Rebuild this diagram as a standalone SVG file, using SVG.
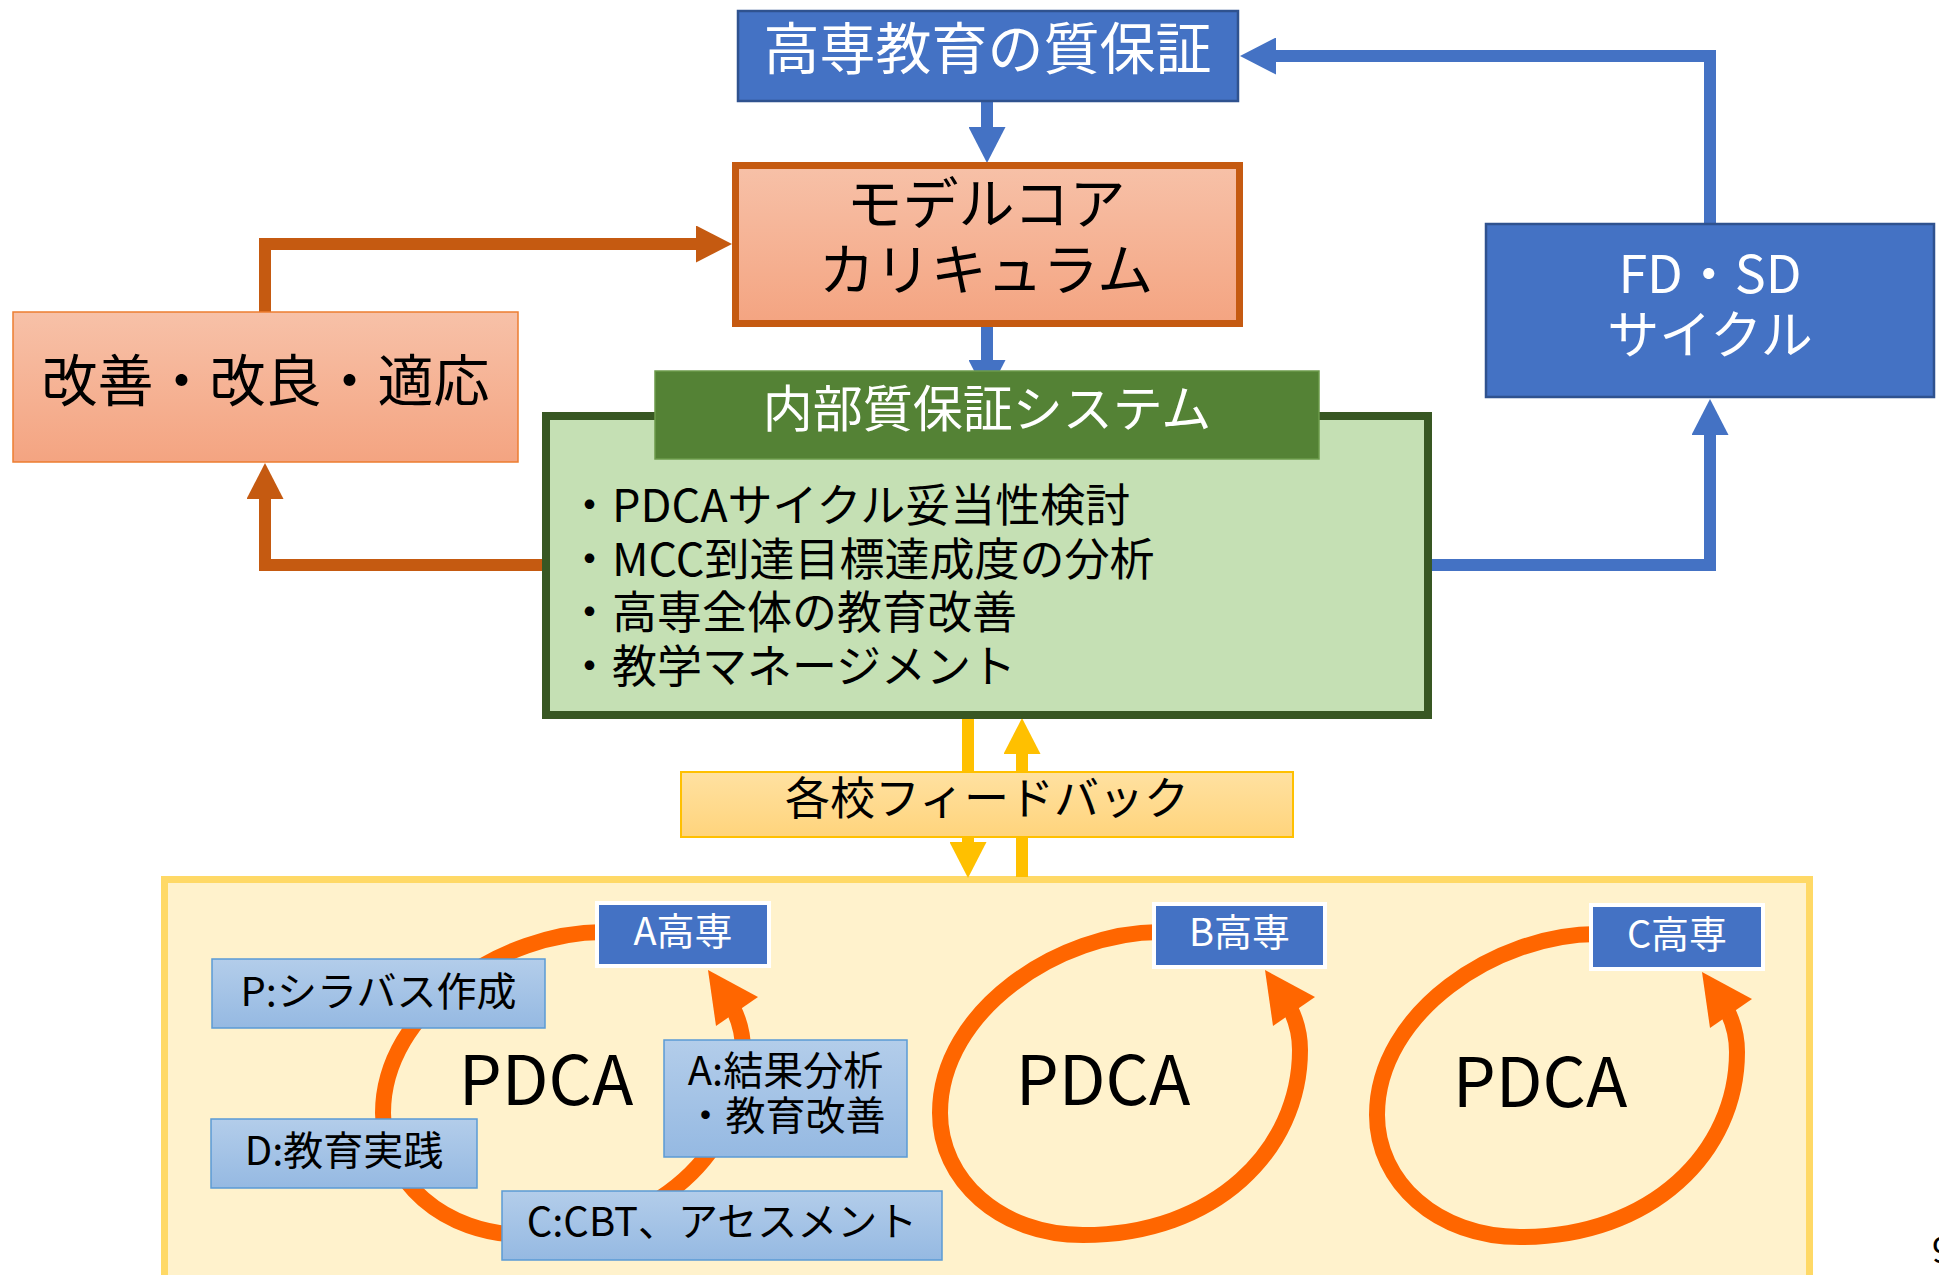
<svg xmlns="http://www.w3.org/2000/svg" width="1939" height="1275" viewBox="0 0 1939 1275">
<defs>
<style>
text { font-family: "Noto Sans CJK JP", "Noto Sans", "Liberation Sans", sans-serif; }
.c { text-anchor: middle; }
.wt { fill: #FFFFFF; }
.bk { fill: #000000; }
.blue { fill: #4472C4; stroke: #2F528F; stroke-width: 2.5; }
.kosen { fill: #4472C4; stroke: #FFFFFF; stroke-width: 4; }
.lbl { fill: url(#gBlue); stroke: #5B9BD5; stroke-width: 1.5; }
.conn { fill: none; stroke-width: 12; stroke-linejoin: miter; stroke-linecap: butt; }
.cb { stroke: #4472C4; }
.co { stroke: #C55A11; }
.cy { stroke: #FFC000; }
.ring { fill: none; stroke: #FF6600; stroke-width: 16; stroke-linecap: butt; }
.head { fill: #FF6600; }
</style>
<linearGradient id="gSalmon" x1="0" y1="0" x2="0" y2="1">
<stop offset="0" stop-color="#F7C1A8"/>
<stop offset="1" stop-color="#F4A481"/>
</linearGradient>
<linearGradient id="gBlue" x1="0" y1="0" x2="0" y2="1">
<stop offset="0" stop-color="#B3CDEA"/>
<stop offset="1" stop-color="#95B9E2"/>
</linearGradient>
<linearGradient id="gYellow" x1="0" y1="0" x2="0" y2="1">
<stop offset="0" stop-color="#FFE1A1"/>
<stop offset="1" stop-color="#FFD47C"/>
</linearGradient>
<marker id="mB" markerUnits="userSpaceOnUse" markerWidth="36" markerHeight="37" refX="0" refY="18.5" orient="auto" viewBox="0 0 36 37"><path d="M0,0 L36,18.5 L0,37 Z" fill="#4472C4"/></marker>
<marker id="mO" markerUnits="userSpaceOnUse" markerWidth="36" markerHeight="37" refX="0" refY="18.5" orient="auto" viewBox="0 0 36 37"><path d="M0,0 L36,18.5 L0,37 Z" fill="#C55A11"/></marker>
<marker id="mY" markerUnits="userSpaceOnUse" markerWidth="36" markerHeight="37" refX="0" refY="18.5" orient="auto" viewBox="0 0 36 37"><path d="M0,0 L36,18.5 L0,37 Z" fill="#FFC000"/></marker>
</defs>

<rect x="0" y="0" width="1939" height="1275" fill="#FFFFFF"/>

<g id="panel-schools">
<rect x="164.5" y="879.5" width="1645" height="500" fill="#FFF2CC" stroke="#FFD966" stroke-width="7"/>
</g>

<g id="connectors">
<path class="conn cb" d="M987,102 V127" marker-end="url(#mB)"/>
<path class="conn cb" d="M987,327 V360" marker-end="url(#mB)"/>
<path class="conn cb" d="M1710,223 V56 H1276" marker-end="url(#mB)"/>
<path class="conn cb" d="M1432,565 H1710 V435" marker-end="url(#mB)"/>
<path class="conn co" d="M265,312 V244 H696" marker-end="url(#mO)"/>
<path class="conn co" d="M545,565 H265 V499" marker-end="url(#mO)"/>
<path class="conn cy" d="M968,719 V842" marker-end="url(#mY)"/>
<path class="conn cy" d="M1022,877 V754" marker-end="url(#mY)"/>
</g>

<g id="cycles">
<g id="cycle-a" transform="translate(-557,0)">
<path class="ring" d="M1160,932 C1060,932 940,1010 940,1113 C940,1180 1000,1235 1083,1235 C1215,1235 1300,1150 1300,1050 C1300,1035 1297,1022 1290,1008"/>
<polygon class="head" points="1265,970 1315,997 1273,1026"/>
</g>
<g id="cycle-b">
<path class="ring" d="M1160,932 C1060,932 940,1010 940,1113 C940,1180 1000,1235 1083,1235 C1215,1235 1300,1150 1300,1050 C1300,1035 1297,1022 1290,1008"/>
<polygon class="head" points="1265,970 1315,997 1273,1026"/>
</g>
<g id="cycle-c" transform="translate(437,2)">
<path class="ring" d="M1160,932 C1060,932 940,1010 940,1113 C940,1180 1000,1235 1083,1235 C1215,1235 1300,1150 1300,1050 C1300,1035 1297,1022 1290,1008"/>
<polygon class="head" points="1265,970 1315,997 1273,1026"/>
</g>
</g>

<g id="node-quality">
<rect class="blue" x="738" y="11" width="500" height="90"/>
<text class="c wt" x="987.5" y="69" font-size="56">高専教育の質保証</text>
</g>

<g id="node-mcc">
<rect x="735.5" y="165.5" width="504" height="158" fill="url(#gSalmon)" stroke="#C55A11" stroke-width="7"/>
<text class="c bk" x="986" y="224" font-size="56">モデルコア</text>
<text class="c bk" x="986" y="290" font-size="56">カリキュラム</text>
</g>

<g id="node-fdsd">
<rect class="blue" x="1486" y="224" width="448" height="173"/>
<text class="c wt" x="1710" y="293" font-size="52">FD・SD</text>
<text class="c wt" x="1710" y="354" font-size="52">サイクル</text>
</g>

<g id="node-kaizen">
<rect x="13" y="312" width="505" height="150" fill="url(#gSalmon)" stroke="#ED7D31" stroke-width="1.5"/>
<text class="c bk" x="265.5" y="401" font-size="56">改善・改良・適応</text>
</g>

<g id="node-internal">
<rect x="546" y="416" width="882" height="299" fill="#C5E0B4" stroke="#385723" stroke-width="8"/>
<rect x="655" y="371" width="664" height="88" fill="#548235" stroke="#6C9B4B" stroke-width="1.5"/>
<text class="c wt" x="987" y="427" font-size="50">内部質保証システム</text>
<text class="bk" x="567" y="522" font-size="45">・PDCAサイクル妥当性検討</text>
<text class="bk" x="567" y="575.5" font-size="45">・MCC到達目標達成度の分析</text>
<text class="bk" x="567" y="629" font-size="45">・高専全体の教育改善</text>
<text class="bk" x="567" y="682.5" font-size="45">・教学マネージメント</text>
</g>

<g id="node-feedback">
<rect x="681" y="772" width="612" height="65" fill="url(#gYellow)" stroke="#FFC000" stroke-width="2"/>
<text class="c bk" x="987" y="815" font-size="45">各校フィードバック</text>
</g>

<g id="pdca-labels">
<text class="c bk" x="546" y="1105" font-size="68">PDCA</text>
<text class="c bk" x="1103" y="1105" font-size="68">PDCA</text>
<text class="c bk" x="1540" y="1107" font-size="68">PDCA</text>
</g>

<g id="node-a-kosen">
<rect class="kosen" x="597" y="903" width="172" height="63"/>
<text class="c wt" x="683" y="945" font-size="38">A高専</text>
</g>

<g id="node-b-kosen">
<rect class="kosen" x="1154" y="904" width="171" height="63"/>
<text class="c wt" x="1239.5" y="946" font-size="38">B高専</text>
</g>

<g id="node-c-kosen">
<rect class="kosen" x="1591" y="905" width="172" height="64"/>
<text class="c wt" x="1677" y="948" font-size="38">C高専</text>
</g>

<g id="node-plan">
<rect class="lbl" x="212" y="959" width="333" height="69"/>
<text class="c bk" x="378.5" y="1006" font-size="40">P:シラバス作成</text>
</g>

<g id="node-do">
<rect class="lbl" x="211" y="1119" width="266" height="69"/>
<text class="c bk" x="344" y="1165" font-size="40">D:教育実践</text>
</g>

<g id="node-act">
<rect class="lbl" x="664" y="1040" width="243" height="117"/>
<text class="c bk" x="785.5" y="1085" font-size="40">A:結果分析</text>
<text class="c bk" x="785.5" y="1130" font-size="40">・教育改善</text>
</g>

<g id="node-check">
<rect class="lbl" x="502" y="1191" width="440" height="69"/>
<text class="c bk" x="722" y="1236" font-size="40">C:CBT、アセスメント</text>
</g>

<text class="bk" x="1932" y="1263" font-size="36">9</text>
</svg>
